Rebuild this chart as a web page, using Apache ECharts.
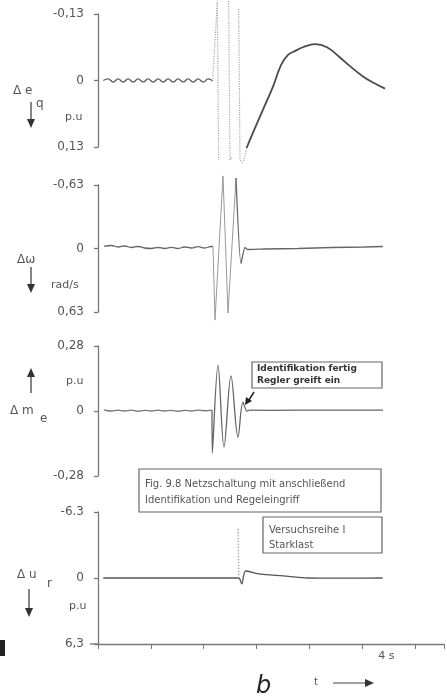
<!DOCTYPE html>
<html><head><meta charset="utf-8">
<script src="https://cdn.jsdelivr.net/npm/echarts@6/dist/echarts.min.js"></script>
<style>html,body{margin:0;padding:0;background:#fff;}#c{width:447px;height:699px;}</style>
</head><body><div id="c"></div>
<script>
// ---- data (time in s, values in axis units) ----
const timeTicks = { min: 0, max: 5.235, interval: 0.8, labelAt: 4, label: '4 s' };

const eqLimits = [-0.13, 0, 0.13];
const eqTickLabels = ['-0,13', '0', '0,13'];
const eqWiggle = [[0.08,0],[0.15,-0.003],[0.23,0.003],[0.30,-0.003],[0.38,0.003],[0.45,-0.003],[0.53,0.003],[0.60,-0.003],[0.68,0.003],[0.75,-0.003],[0.83,0.003],[0.90,-0.003],[0.98,0.003],[1.05,-0.003],[1.13,0.003],[1.20,-0.003],[1.28,0.003],[1.35,-0.003],[1.43,0.003],[1.50,-0.003],[1.58,0.003],[1.65,-0.003],[1.72,0.001]];
const eqTransient = [[1.72,0.001],[1.79,-0.155],[1.81,0.155],[1.88,'-'],[1.96,-0.155],[1.98,0.155],[2.01,0.15],[2.05,'-'],[2.11,-0.14],[2.13,0.155],[2.16,0.16],[2.19,0.155],[2.235,0.13]];
const eqRecovery = [[2.205,0.14],[2.235,0.13],[2.325,0.102],[2.475,0.057],[2.625,0.012],[2.745,-0.030],[2.85,-0.050],[2.96,-0.058],[3.075,-0.065],[3.255,-0.071],[3.435,-0.065],[3.63,-0.045],[3.78,-0.028],[3.975,-0.008],[4.125,0.004],[4.305,0.016]];

const dwLimits = [-0.63, 0, 0.63];
const dwTickLabels = ['-0,63', '0', '0,63'];
const dwWiggle = [[0.09,-0.02],[0.2,-0.03],[0.3,-0.015],[0.4,-0.025],[0.5,-0.01],[0.6,-0.02],[0.7,-0.005],[0.8,0.0],[0.9,-0.01],[1.0,0.0],[1.1,-0.012],[1.2,0.0],[1.3,-0.015],[1.4,-0.005],[1.5,-0.018],[1.6,-0.005],[1.7,-0.02],[1.725,-0.02]];
const dwTransient = [[1.725,-0.02],[1.755,0.71],[1.875,-0.72],[1.95,0.64],[2.07,-0.70]];
const dwRecovery = [[2.07,-0.70],[2.145,0.148],[2.205,-0.01],[2.25,0.01],[2.5,0.005],[3.0,0.0],[3.5,-0.01],[4.0,-0.015],[4.275,-0.02]];

const meLimits = [-0.28, 0, 0.28];
const meTickLabels = ['-0,28', '0', '0,28'];
const meWiggle = [[0.09,0.005],[0.2,0.0],[0.3,0.004],[0.4,0.0],[0.5,0.004],[0.6,-0.001],[0.7,0.003],[0.8,0.0],[0.9,0.004],[1.0,0.0],[1.1,0.003],[1.2,-0.001],[1.3,0.003],[1.4,0.0],[1.5,0.004],[1.6,0.001],[1.71,0.004]];
const meTransient = [[1.71,0.004],[1.715,-0.181],[1.80,0.198],[1.89,-0.155],[1.995,0.151],[2.10,-0.112],[2.175,0.038],[2.235,0.0],[2.27,0.004]];
const meRecovery = [[2.27,0.004],[2.6,0.003],[3.0,0.004],[3.5,0.004],[4.0,0.004],[4.275,0.004]];

const urLimits = [-6.3, 0, 6.3];
const urTickLabels = ['-6.3', '0', '6,3'];
const urTrace = [[0.08,0],[1.0,0],[2.0,0],[2.13,0],[2.175,0.57],[2.235,-0.67],[2.43,-0.4],[2.8,-0.2],[3.18,0],[3.8,0.02],[4.305,0]];
const urSpike = [[2.12,-4.7],[2.13,0]];

// ---- chart ----
const chart = echarts.init(document.getElementById('c'), null, { renderer: 'canvas' });
const FONT = 'DejaVu Sans';
const AX = '#777', TX = '#555';

const grids = [
  { left: 98, right: 0, top: 14, height: 133 },
  { left: 98, right: 0, top: 185, height: 127 },
  { left: 98, right: 0, top: 346, height: 130 },
  { left: 98, right: 0, top: 512, height: 132 }
];
const lims = [eqLimits, dwLimits, meLimits, urLimits];
const tl = [eqTickLabels, dwTickLabels, meTickLabels, urTickLabels];
const inv = [true, true, false, true];

const xAxes = grids.map((g, i) => ({
  type: 'value', gridIndex: i, min: timeTicks.min, max: timeTicks.max, interval: timeTicks.interval,
  show: i === 3,
  axisLine: { show: true, onZero: false, lineStyle: { color: AX, width: 1.3 } },
  axisTick: { show: true, length: 5, lineStyle: { color: AX } },
  splitLine: { show: false },
  axisLabel: {
    color: TX, fontFamily: FONT, fontSize: 11, margin: 7, padding: [0, 0, 0, 48],
    formatter: v => Math.abs(v - timeTicks.labelAt) < 1e-6 ? timeTicks.label : ''
  }
}));
const yAxes = grids.map((g, i) => ({
  type: 'value', gridIndex: i, min: lims[i][0], max: lims[i][2], interval: lims[i][2],
  inverse: inv[i],
  axisLine: { show: true, onZero: false, lineStyle: { color: AX, width: 1.3 } },
  axisTick: { show: true, length: 4, lineStyle: { color: AX, width: 1.3 } },
  splitLine: { show: false },
  axisLabel: {
    color: TX, fontFamily: FONT, fontSize: 12, margin: 14,
    formatter: v => {
      const k = lims[i].findIndex(x => Math.abs(x - v) < 1e-9);
      return k >= 0 ? tl[i][k] : '';
    }
  }
}));

function line(data, i, color, width, opts) {
  return Object.assign({
    type: 'line', xAxisIndex: i, yAxisIndex: i, data: data, showSymbol: false,
    connectNulls: false, lineStyle: { color: color, width: width }, animation: false, silent: true
  }, opts || {});
}

const DARK = '#4a4a4a';
const series = [
  line(eqWiggle, 0, '#5a5a5a', 1.3, { smooth: true }),
  line(eqTransient, 0, '#aaa', 1, { clip: false, lineStyle: { color: '#aaa', width: 1.2, type: 'dotted' } }),
  line(eqRecovery, 0, DARK, 1.8, { smooth: 0.4 }),
  line(dwWiggle, 1, '#666', 1.3, { smooth: true }),
  line(dwTransient, 1, '#999', 1, { clip: false }),
  line(dwRecovery, 1, '#666', 1.3, { smooth: 0.2, clip: false }),
  line(meWiggle, 2, '#777', 1.3, { smooth: true }),
  line(meTransient, 2, '#666', 1.3, { smooth: 0.35 }),
  line(meRecovery, 2, '#666', 1.3),
  line(urTrace, 3, '#555', 1.3, { smooth: 0.3 }),
  line(urSpike, 3, '#aaa', 1, { lineStyle: { color: '#aaa', width: 1.5, type: 'dotted' } })
];

function txt(x, y, s, o) {
  return { type: 'text', x: x, y: y, silent: true,
    style: Object.assign({ text: s, fill: TX, font: '12px "' + FONT + '"', textVerticalAlign: 'middle' }, o || {}) };
}
function vline(x, y1, y2, w) {
  return { type: 'line', silent: true, shape: { x1: x, y1: y1, x2: x, y2: y2 }, style: { stroke: '#444', lineWidth: w || 1.3 } };
}
function head(x, y, dir) {
  const p = dir > 0 ? [[x - 4, y - 9], [x + 4, y - 9], [x, y]] : [[x - 4, y + 9], [x + 4, y + 9], [x, y]];
  return { type: 'polygon', silent: true, shape: { points: p }, style: { fill: '#333' } };
}
function box(x, y, w, h) {
  return { type: 'rect', silent: true, shape: { x: x, y: y, width: w, height: h }, style: { fill: '#fff', stroke: '#666', lineWidth: 1.2 } };
}

const graphic = [
  // panel 1 labels
  txt(13, 91, 'Δ e'), txt(36, 104, 'q'), vline(31, 102, 121), head(31, 128, 1), txt(65, 117, 'p.u', { font: '11px "' + FONT + '"' }),
  // panel 2
  txt(17, 260, 'Δω'), vline(31, 267, 286), head(31, 293, 1), txt(51, 285, 'rad/s', { font: '11px "' + FONT + '"' }),
  // panel 3
  vline(31, 393, 375), head(31, 368, -1), txt(10, 411, 'Δ m'), txt(40, 419, 'e'), txt(66, 381, 'p.u', { font: '11px "' + FONT + '"' }),
  // panel 4
  txt(17, 575, 'Δ u'), txt(47, 584, 'r'), vline(29, 589, 610), head(29, 617, 1), txt(69, 606, 'p.u', { font: '11px "' + FONT + '"' }),
  // scan mark
  { type: 'rect', silent: true, shape: { x: 0, y: 640, width: 5, height: 16 }, style: { fill: '#222' } },
  { type: 'line', silent: true, shape: { x1: 90, y1: 644, x2: 98, y2: 644 }, style: { stroke: AX, lineWidth: 1.3 } },
  // annotation boxes
  box(252, 362, 130, 26),
  txt(257, 369, 'Identifikation fertig', { font: 'bold 9px "' + FONT + '"', fill: '#333' }),
  txt(257, 381, 'Regler greift ein', { font: 'bold 9px "' + FONT + '"', fill: '#333' }),
  { type: 'line', silent: true, shape: { x1: 254, y1: 392, x2: 249, y2: 400 }, style: { stroke: '#222', lineWidth: 1.5 } },
  { type: 'polygon', silent: true, shape: { points: [[245, 405], [246, 397], [252, 401]] }, style: { fill: '#222' } },
  box(139, 469, 242, 43),
  txt(145, 484, 'Fig. 9.8 Netzschaltung mit anschließend', { font: '10px "' + FONT + '"' }),
  txt(145, 500, 'Identifikation und Regeleingriff', { font: '10px "' + FONT + '"' }),
  box(263, 517, 119, 36),
  txt(269, 530, 'Versuchsreihe I', { font: '10px "' + FONT + '"' }),
  txt(269, 545, 'Starklast', { font: '10px "' + FONT + '"' }),
  // bottom
  txt(256, 687, 'b', { font: 'italic 24px "' + FONT + '"', fill: '#222' }),
  txt(314, 682, 't', { font: '10px "' + FONT + '"' }),
  { type: 'line', silent: true, shape: { x1: 333, y1: 683, x2: 366, y2: 683 }, style: { stroke: '#444', lineWidth: 1.2 } },
  { type: 'polygon', silent: true, shape: { points: [[365, 679], [365, 687], [374, 683]] }, style: { fill: '#333' } }
];

chart.setOption({
  backgroundColor: '#fff',
  animation: false,
  grid: grids,
  xAxis: xAxes,
  yAxis: yAxes,
  series: series,
  graphic: graphic
});
</script>
</body></html>
